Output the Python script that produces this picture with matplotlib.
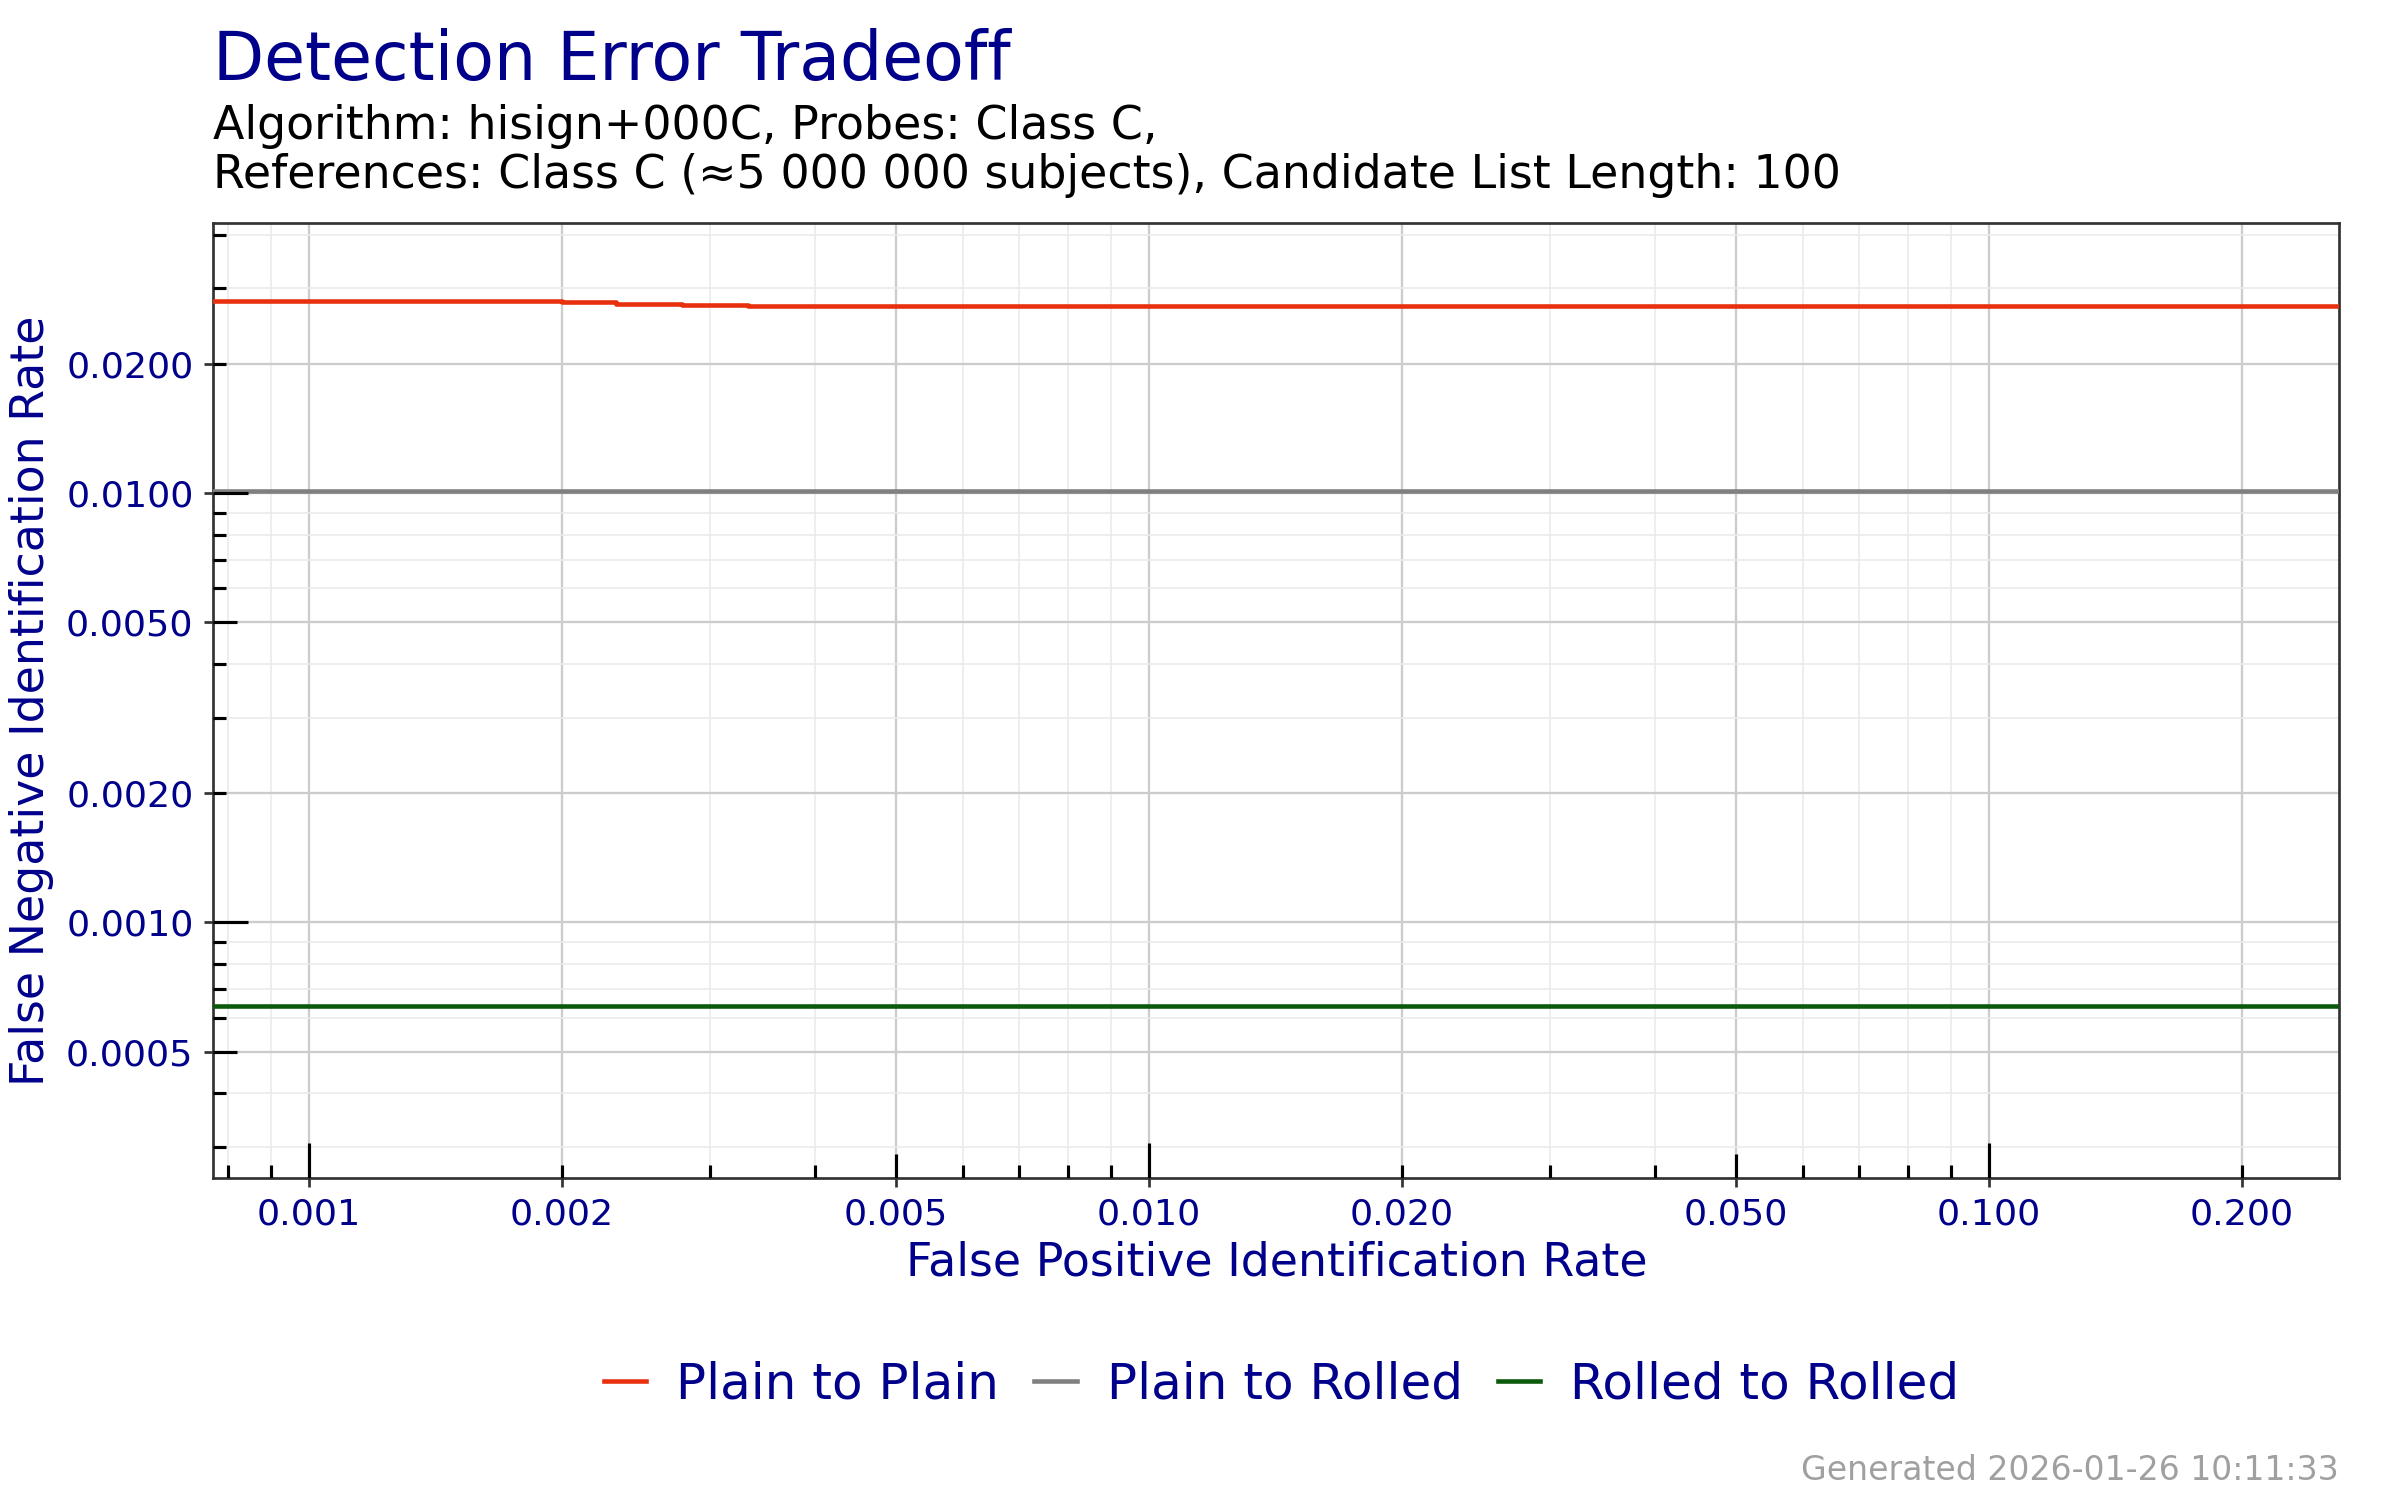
import numpy as np
import matplotlib.pyplot as plt
from matplotlib.lines import Line2D
from matplotlib.ticker import FixedLocator, NullFormatter
from matplotlib.transforms import blended_transform_factory

# ========== data ==========
series_names = ["Plain to Plain", "Plain to Rolled", "Rolled to Rolled"]
series_colors = ["#E8300E", "#808080", "#0B5A0B"]

fpir_plain_plain = [0.0007, 0.0020, 0.00232, 0.00278, 0.00333, 0.3]
fnir_plain_plain = [0.02808, 0.0278, 0.02764, 0.02749, 0.02734, 0.02734]
fpir_plain_rolled = [0.0007, 0.3]
fnir_plain_rolled = [0.0101, 0.0101]
fpir_rolled_rolled = [0.0007, 0.3]
fnir_rolled_rolled = [0.00064, 0.00064]

x_breaks = [0.001, 0.002, 0.005, 0.010, 0.020, 0.050, 0.100, 0.200]
x_labels = ["0.001", "0.002", "0.005", "0.010", "0.020", "0.050", "0.100", "0.200"]
y_breaks = [0.0005, 0.0010, 0.0020, 0.0050, 0.0100, 0.0200]
y_labels = ["0.0005", "0.0010", "0.0020", "0.0050", "0.0100", "0.0200"]

xlim = (0.000769, 0.261)
ylim = (0.000254, 0.0425)

NAVY = "#00008B"

# ========== figure ==========
fig = plt.figure(figsize=(16, 10), dpi=150)
ax = fig.add_axes([0.0889, 0.2148, 0.8857, 0.6363])

ax.set_xscale("log")
ax.set_yscale("log")
ax.set_xlim(*xlim)
ax.set_ylim(*ylim)

xs = [fpir_plain_plain, fpir_plain_rolled, fpir_rolled_rolled]
ys = [fnir_plain_plain, fnir_plain_rolled, fnir_rolled_rolled]
for x, y, c in zip(xs, ys, series_colors):
    ax.plot(x, y, color=c, lw=2.2, drawstyle="steps-post", zorder=3)

# log tick positions (annotation style)
def logtick_positions(lo, hi):
    out = []
    for k in range(-5, 1):
        for m in range(1, 10):
            v = m * 10.0 ** k
            if lo <= v <= hi:
                out.append((v, m))
    return out

xticks_log = logtick_positions(*xlim)
yticks_log = logtick_positions(*ylim)

# major / minor grid
ax.xaxis.set_major_locator(FixedLocator(x_breaks))
ax.yaxis.set_major_locator(FixedLocator(y_breaks))
ax.set_xticklabels(x_labels)
ax.set_yticklabels(y_labels)
ax.xaxis.set_minor_locator(FixedLocator([v for v, m in xticks_log if not np.isclose(v, x_breaks).any()]))
ax.yaxis.set_minor_locator(FixedLocator([v for v, m in yticks_log if not np.isclose(v, y_breaks).any()]))
ax.xaxis.set_minor_formatter(NullFormatter())
ax.yaxis.set_minor_formatter(NullFormatter())
ax.grid(which="major", color="#CCCCCC", lw=1.1, zorder=0)
ax.grid(which="minor", color="#EBEBEB", lw=0.8, zorder=0)
ax.set_axisbelow(True)

ax.tick_params(which="major", direction="out", length=4.5, width=1.3, color="#333333",
               labelsize=17.5, labelcolor=NAVY, pad=5)
ax.tick_params(which="minor", length=0)

for s in ax.spines.values():
    s.set_color("#333333")
    s.set_linewidth(1.3)

# inward log ticks: long at 1, mid at 5, short otherwise
fig_w, fig_h = fig.get_size_inches() * fig.dpi
pos = ax.get_position()
pw, ph = pos.width * fig_w, pos.height * fig_h
lens_px = {1: 35, 5: 24}
tx = blended_transform_factory(ax.transData, ax.transAxes)
ty = blended_transform_factory(ax.transAxes, ax.transData)
for v, m in xticks_log:
    L = lens_px.get(m, 12.5) / ph
    ax.vlines(v, 0, L, transform=tx, color="black", lw=1.5, zorder=4)
for v, m in yticks_log:
    L = lens_px.get(m, 12.5) / pw
    ax.hlines(v, 0, L, transform=ty, color="black", lw=1.5, zorder=4)

# ========== text ==========
fig.text(0.0889, 0.9467, "Detection Error Tradeoff", fontsize=32, color=NAVY, va="baseline")
fig.text(0.0889, 0.9073, "Algorithm: hisign+000C, Probes: Class C,", fontsize=22, va="baseline")
fig.text(0.0889, 0.8747, "References: Class C (\u22485 000 000 subjects), Candidate List Length: 100",
         fontsize=22, va="baseline")

fig.text(0.532, 0.150, "False Positive Identification Rate", fontsize=22, color=NAVY,
         ha="center", va="baseline")
fig.text(0.0133, 0.533, "False Negative Identification Rate", fontsize=22, color=NAVY,
         ha="center", va="center", rotation=90)

handles = [Line2D([], [], color=c, lw=2.2) for c in series_colors]
fig.legend(handles, series_names, ncol=3, loc="center", bbox_to_anchor=(0.534, 0.0767),
           frameon=False, fontsize=24, handlelength=0.85, handletextpad=0.6,
           columnspacing=0.7, labelcolor=NAVY)

fig.text(0.9746, 0.0133, "Generated 2026-01-26 10:11:33", fontsize=15.9, color="#A0A0A0",
         ha="right", va="baseline")

plt.savefig("out.png", dpi=150)
plt.close()
print("Saved: out.png")
